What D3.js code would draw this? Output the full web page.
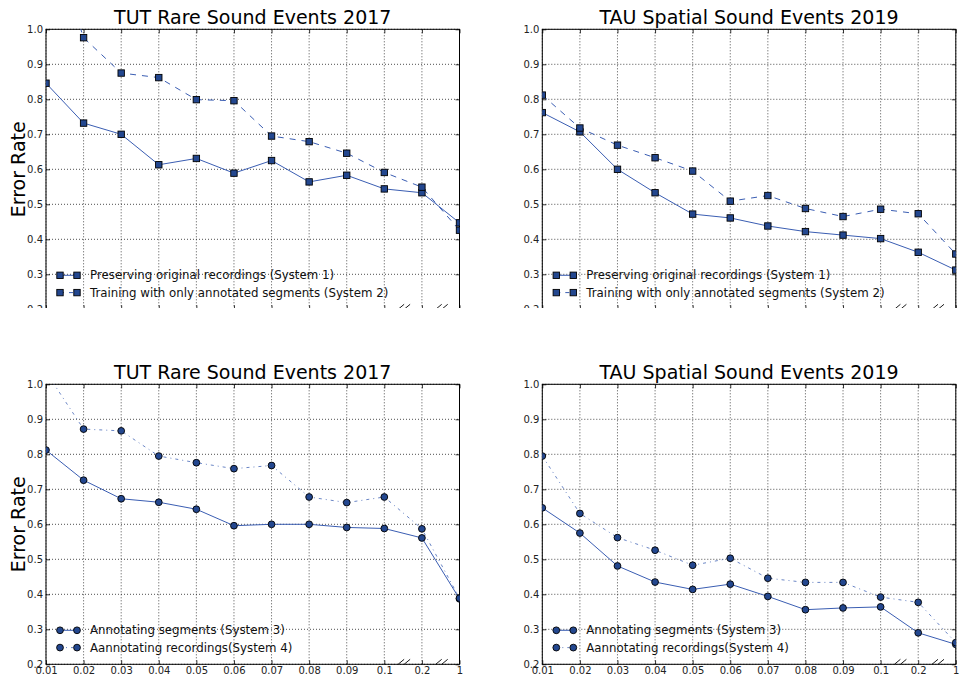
<!DOCTYPE html>
<html>
<head>
<meta charset="utf-8">
<script src="https://cdn.jsdelivr.net/npm/d3@7"></script>
<style>
  html, body { margin: 0; padding: 0; background: #fff; }
  svg { display: block; font-family: 'DejaVu Sans', sans-serif; }
</style>
</head>
<body>
<svg id="chart" width="959" height="680"></svg>
<script>
// Error rate vs. fraction of annotated data, four panels

const X_LABELS = ['0.01', '0.02', '0.03', '0.04', '0.05', '0.06', '0.07', '0.08', '0.09', '0.1', '0.2', '1'];
const Y_TICKS = [0.2, 0.3, 0.4, 0.5, 0.6, 0.7, 0.8, 0.9, 1.0];

// TUT Rare Sound Events 2017
const TUT_SYS1 = [0.846, 0.732, 0.700, 0.613, 0.631, 0.589, 0.625, 0.564, 0.583, 0.544, 0.533, 0.447];
const TUT_SYS2 = [1.30, 0.976, 0.875, 0.862, 0.799, 0.796, 0.695, 0.679, 0.646, 0.591, 0.549, 0.426];
const TUT_SYS3 = [0.812, 0.726, 0.673, 0.663, 0.643, 0.596, 0.600, 0.600, 0.591, 0.588, 0.561, 0.387];
const TUT_SYS4 = [1.035, 0.872, 0.867, 0.795, 0.776, 0.759, 0.768, 0.678, 0.662, 0.678, 0.587, 0.389];

// TAU Spatial Sound Events 2019
const TAU_SYS1 = [0.762, 0.707, 0.600, 0.533, 0.472, 0.461, 0.438, 0.422, 0.412, 0.402, 0.363, 0.312];
const TAU_SYS2 = [0.812, 0.718, 0.669, 0.633, 0.595, 0.509, 0.525, 0.488, 0.465, 0.486, 0.473, 0.358];
const TAU_SYS3 = [0.647, 0.575, 0.481, 0.435, 0.414, 0.429, 0.394, 0.356, 0.361, 0.364, 0.290, 0.257];
const TAU_SYS4 = [0.795, 0.631, 0.562, 0.526, 0.483, 0.503, 0.446, 0.434, 0.434, 0.392, 0.377, 0.262];

const LINE_COLOR = '#3a5db2';
const MARKER_FILL = '#23478f';

const STYLES = {
  solid:   { dash: null,      width: 1,   opacity: 1 },
  dashed:  { dash: '6,6',     width: 1,   opacity: 1 },
  dashdot: { dash: '3,4,1,4', width: 1,   opacity: 0.75 },
};

const svg = d3.select('#chart');

// top row is cut off by the figure just above the 0.2 line
svg.append('defs').append('clipPath').attr('id', 'top-row')
  .append('rect').attr('x', 0).attr('y', 0).attr('width', 959).attr('height', 308);

const topRow = svg.append('g').attr('clip-path', 'url(#top-row)');
const bottomRow = svg.append('g');

const panels = [
  { parent: topRow, id: 'p0', left: 46, top: 29.3, title: 'TUT Rare Sound Events 2017', ylabel: true, marker: 'square',
    series: [
      { name: 'Preserving original recordings (System 1)', values: TUT_SYS1, style: 'solid' },
      { name: 'Training with only annotated segments (System 2)', values: TUT_SYS2, style: 'dashed' },
    ] },
  { parent: topRow, id: 'p1', left: 542.3, top: 29.3, title: 'TAU Spatial Sound Events 2019', ylabel: false, marker: 'square',
    series: [
      { name: 'Preserving original recordings (System 1)', values: TAU_SYS1, style: 'solid' },
      { name: 'Training with only annotated segments (System 2)', values: TAU_SYS2, style: 'dashed' },
    ] },
  { parent: bottomRow, id: 'p2', left: 46, top: 384.3, title: 'TUT Rare Sound Events 2017', ylabel: true, marker: 'circle',
    series: [
      { name: 'Annotating segments (System 3)', values: TUT_SYS3, style: 'solid' },
      { name: 'Aannotating recordings(System 4)', values: TUT_SYS4, style: 'dashdot' },
    ] },
  { parent: bottomRow, id: 'p3', left: 542.3, top: 384.3, title: 'TAU Spatial Sound Events 2019', ylabel: false, marker: 'circle',
    series: [
      { name: 'Annotating segments (System 3)', values: TAU_SYS3, style: 'solid' },
      { name: 'Aannotating recordings(System 4)', values: TAU_SYS4, style: 'dashdot' },
    ] },
];

const W = 413.5;
const H = 280;

function drawMarker(sel, kind) {
  if (kind === 'square') {
    sel.append('rect')
      .attr('x', -3.2).attr('y', -3.2)
      .attr('width', 6.4).attr('height', 6.4)
      .attr('fill', MARKER_FILL)
      .attr('stroke', '#000')
      .attr('stroke-width', 0.9);
  } else {
    sel.append('circle')
      .attr('r', 3.4)
      .attr('fill', MARKER_FILL)
      .attr('stroke', '#000')
      .attr('stroke-width', 0.9);
  }
}

function drawPanel(p) {
  const g = p.parent.append('g').attr('transform', `translate(${p.left},${p.top})`);

  const x = d3.scalePoint().domain(X_LABELS).range([0, W]);
  const y = d3.scaleLinear().domain([0.2, 1.0]).range([H, 0]);

  g.append('defs').append('clipPath').attr('id', `clip-${p.id}`)
    .append('rect').attr('width', W).attr('height', H);

  // dotted grid
  g.append('g')
    .selectAll('line.gx')
    .data(X_LABELS)
    .join('line')
    .attr('x1', d => x(d)).attr('x2', d => x(d))
    .attr('y1', 0).attr('y2', H)
    .attr('stroke', '#222').attr('stroke-width', 0.8)
    .attr('stroke-dasharray', '1,2');
  g.append('g')
    .selectAll('line.gy')
    .data(Y_TICKS)
    .join('line')
    .attr('x1', 0).attr('x2', W)
    .attr('y1', d => y(d)).attr('y2', d => y(d))
    .attr('stroke', '#222').attr('stroke-width', 0.8)
    .attr('stroke-dasharray', '1,2');

  // axes with inward ticks (classic style)
  g.append('g')
    .call(d3.axisLeft(y).tickValues(Y_TICKS).tickFormat(d3.format('.1f')).tickSizeInner(-4).tickSizeOuter(0).tickPadding(3));
  g.append('g').attr('transform', `translate(${W},0)`)
    .call(d3.axisRight(y).tickValues(Y_TICKS).tickFormat('').tickSizeInner(-4).tickSizeOuter(0));
  g.append('g').attr('transform', `translate(0,${H})`)
    .call(d3.axisBottom(x).tickSizeInner(-4).tickSizeOuter(0).tickPadding(3));
  g.append('g')
    .call(d3.axisTop(x).tickFormat('').tickSizeInner(-4).tickSizeOuter(0));

  g.selectAll('.domain').remove();
  g.selectAll('.tick line').attr('stroke', '#000').attr('stroke-width', 0.8);
  g.selectAll('.tick text').attr('fill', '#222').attr('font-size', 10)
    .attr('font-family', "'DejaVu Sans', sans-serif");

  // frame
  g.append('rect')
    .attr('width', W).attr('height', H)
    .attr('fill', 'none').attr('stroke', '#000').attr('stroke-width', 1);

  // axis break marks between 0.1 / 0.2 / 1
  [[9, 10], [10, 11]].forEach(([a, b]) => {
    const cx = (x(X_LABELS[a]) + x(X_LABELS[b])) / 2 + 1;
    [-6, 0].forEach(off => {
      g.append('line')
        .attr('x1', cx + off).attr('y1', H)
        .attr('x2', cx + off + 6).attr('y2', H - 5)
        .attr('stroke', '#000').attr('stroke-width', 0.9);
    });
  });

  // series
  const plot = g.append('g').attr('clip-path', `url(#clip-${p.id})`);
  const line = d3.line().x((d, i) => x(X_LABELS[i])).y(d => y(d));

  p.series.forEach(s => {
    const st = STYLES[s.style];
    plot.append('path')
      .datum(s.values)
      .attr('d', line)
      .attr('fill', 'none')
      .attr('stroke', LINE_COLOR)
      .attr('stroke-width', st.width)
      .attr('stroke-opacity', st.opacity)
      .attr('stroke-dasharray', st.dash);
  });
  p.series.forEach(s => {
    plot.selectAll(null)
      .data(s.values)
      .join('g')
      .attr('transform', (d, i) => `translate(${x(X_LABELS[i])},${y(d)})`)
      .each(function() { drawMarker(d3.select(this), p.marker); });
  });

  // title
  g.append('text')
    .attr('x', W / 2).attr('y', -5)
    .attr('text-anchor', 'middle')
    .attr('font-size', 19)
    .attr('fill', '#000')
    .text(p.title);

  if (p.ylabel) {
    g.append('text')
      .attr('transform', `translate(${25 - p.left},${H / 2}) rotate(-90)`)
      .attr('text-anchor', 'middle')
      .attr('font-size', 19)
      .attr('fill', '#000')
      .text('Error Rate');
  }

  // legend, no frame
  const legend = g.append('g').attr('transform', `translate(14,${H - 34})`);
  p.series.forEach((s, i) => {
    const st = STYLES[s.style];
    const row = legend.append('g').attr('transform', `translate(0,${i * 17.3})`);
    row.append('line')
      .attr('x1', 0).attr('x2', 17)
      .attr('stroke', LINE_COLOR)
      .attr('stroke-width', st.width)
      .attr('stroke-opacity', st.opacity)
      .attr('stroke-dasharray', s.style === 'dashed' ? '4,5' : (s.style === 'dashdot' ? '2,4,1,4' : null));
    [0, 17].forEach(px => {
      drawMarker(row.append('g').attr('transform', `translate(${px},0)`), p.marker);
    });
    row.append('text')
      .attr('x', 30).attr('y', 0)
      .attr('dominant-baseline', 'central')
      .attr('font-size', 11.8)
      .attr('fill', '#111')
      .text(s.name);
  });
}

panels.forEach(drawPanel);
</script>
</body>
</html>
